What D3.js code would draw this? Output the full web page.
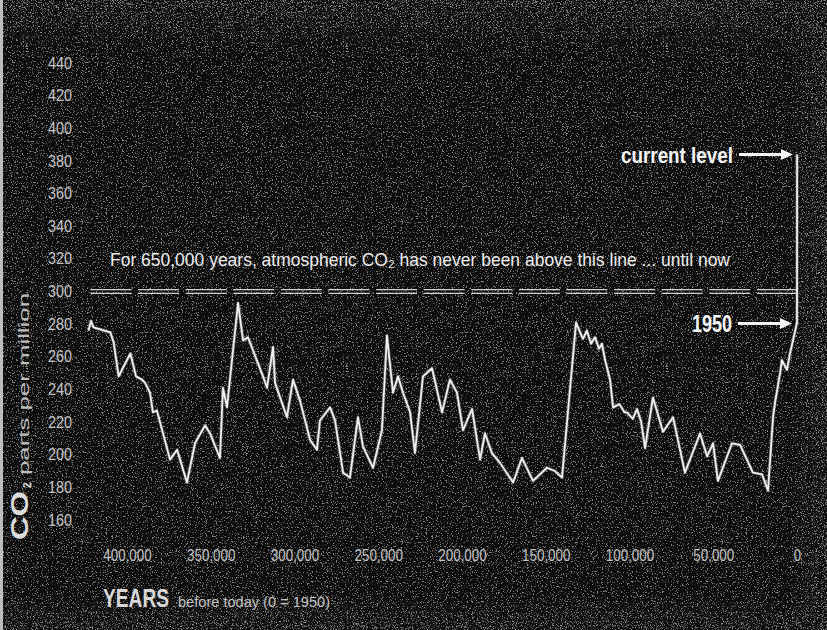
<!DOCTYPE html>
<html><head><meta charset="utf-8">
<script src="https://cdn.jsdelivr.net/npm/d3@7"></script>
<style>html,body{margin:0;padding:0;background:#0c0c0c;} svg{display:block}</style>
</head><body><svg id="c" width="827" height="630"></svg>
<script>
// ---- data (years before 1950, CO2 ppm) ----
const years = [423000,421500,420000,410000,408000,405000,398000,394600,391000,389200,386300,384500,382100,374300,370100,364200,359400,353400,350400,344500,342700,340300,333700,330700,327800,324800,318800,316400,312800,311600,304500,300900,296700,290700,286600,284800,278800,275800,271000,266900,262100,259100,253100,247800,244800,241200,238200,235200,231000,228100,223300,217900,211900,207200,203000,199400,194000,189200,186300,182100,177300,169500,164200,157600,149300,144500,140300,131900,129500,127800,125400,123000,120600,118200,116400,114600,111600,109800,106000,103000,101500,98000,95500,93000,90700,86000,80000,74000,66900,57900,53700,50100,47200,38800,34000,26300,20900,17300,14300,13100,10100,9000,6000,4200,2400,0,-55];
const co2   = [276,282,278,275,269,248,262,248,246,244,238,226,227,197,203,183,207,218,213,198,241,229,293,270,272,264,248,241,266,244,223,246,233,209,203,221,229,221,189,186,223,205,192,215,273,238,248,238,226,201,248,253,226,246,238,215,228,197,213,201,195,183,198,184,192,190,186,281,275,271,276,268,272,265,268,258,246,229,231,226,226,222,228,220,204,235,214,223,189,213,199,207,184,207,206,189,188,178,223,232,250,258,252,262,270,281,384];
const yTicks = [160,180,200,220,240,260,280,300,320,340,360,380,400,420,440];
const xTicks = [400000,350000,300000,250000,200000,150000,100000,50000,0];
const thresholdLevel = 300;
const annotation = "For 650,000 years, atmospheric CO\u2082 has never been above this line ... until now";
const labelCurrent = "current level";
const label1950 = "1950";
const yTitleMain = "CO";
const yTitleSub = "2";
const yTitleRest = "parts per million";
const xTitleMain = "YEARS";
const xTitleRest = "before today (0 = 1950)";

const svg = d3.select("#c");
const W = 827, H = 630;
const FONT = "'Liberation Sans Narrow','Liberation Sans',Arial,sans-serif";

const x = d3.scaleLinear().domain([0, 400000]).range([797, 127]);
const y = d3.scaleLinear().domain([160, 440]).range([520, 63]);

// ---- background with grain ----
const defs = svg.append("defs");
const f = defs.append("filter").attr("id","grain").attr("filterUnits","userSpaceOnUse")
  .attr("x",0).attr("y",0).attr("width",W).attr("height",H);
f.append("feTurbulence").attr("type","fractalNoise").attr("baseFrequency",0.8)
  .attr("numOctaves",2).attr("seed",7).attr("result","n");
f.append("feColorMatrix").attr("type","matrix")
  .attr("values","0 0 0 0 1  0 0 0 0 1  0 0 0 0 1  8 0 0 0 -4.6");
const f2 = defs.append("filter").attr("id","grain2").attr("filterUnits","userSpaceOnUse")
  .attr("x",0).attr("y",0).attr("width",W).attr("height",H);
f2.append("feTurbulence").attr("type","fractalNoise").attr("baseFrequency",0.9)
  .attr("numOctaves",2).attr("seed",21).attr("result","n");
f2.append("feColorMatrix").attr("type","matrix")
  .attr("values","0 0 0 0 1  0 0 0 0 1  0 0 0 0 1  7 0 0 0 -3.9");

// edge mask
const gTop = defs.append("linearGradient").attr("id","gt").attr("x1",0).attr("y1",0).attr("x2",0).attr("y2",1);
gTop.append("stop").attr("offset",0).attr("stop-color","#fff").attr("stop-opacity",1);
gTop.append("stop").attr("offset",1).attr("stop-color","#fff").attr("stop-opacity",0);
const gR = defs.append("linearGradient").attr("id","gr").attr("x1",1).attr("y1",0).attr("x2",0).attr("y2",0);
gR.append("stop").attr("offset",0).attr("stop-color","#fff").attr("stop-opacity",1);
gR.append("stop").attr("offset",1).attr("stop-color","#fff").attr("stop-opacity",0);
const gB = defs.append("linearGradient").attr("id","gb").attr("x1",0).attr("y1",1).attr("x2",0).attr("y2",0);
gB.append("stop").attr("offset",0).attr("stop-color","#fff").attr("stop-opacity",1);
gB.append("stop").attr("offset",1).attr("stop-color","#fff").attr("stop-opacity",0);
const m = defs.append("mask").attr("id","edge").attr("maskUnits","userSpaceOnUse")
  .attr("x",0).attr("y",0).attr("width",W).attr("height",H);
m.append("rect").attr("x",0).attr("y",0).attr("width",W).attr("height",50).attr("fill","url(#gt)");
m.append("rect").attr("x",790).attr("y",0).attr("width",37).attr("height",H).attr("fill","url(#gr)");
m.append("rect").attr("x",0).attr("y",595).attr("width",W).attr("height",35).attr("fill","url(#gb)");

svg.append("rect").attr("width",W).attr("height",H).attr("fill","#0c0c0c");
svg.append("rect").attr("width",W).attr("height",H).attr("filter","url(#grain)").attr("opacity",0.5);
svg.append("rect").attr("width",W).attr("height",H).attr("filter","url(#grain2)").attr("opacity",0.4).attr("mask","url(#edge)");
svg.append("rect").attr("x",0).attr("y",0).attr("width",3).attr("height",H).attr("fill","#bdbdbd");

// ---- y axis ----
const yAxis = svg.append("g").attr("transform","translate(72,0)")
  .call(d3.axisLeft(y).tickValues(yTicks).tickSize(0).tickPadding(0));
yAxis.select(".domain").remove();
yAxis.selectAll("text").attr("fill","#c4c4c4").attr("font-family",FONT).attr("font-size",16)
  .attr("textLength",24).attr("lengthAdjust","spacingAndGlyphs");

// ---- x axis ----
const fmt = d3.format(",");
const xAxis = svg.append("g").attr("transform","translate(0,545)")
  .call(d3.axisBottom(x).tickValues(xTicks).tickFormat(fmt).tickSize(0).tickPadding(0));
xAxis.select(".domain").remove();
xAxis.selectAll("text").attr("fill","#c4c4c4").attr("font-family",FONT).attr("font-size",16)
  .attr("y",0).attr("dy","1em")
  .attr("textLength", d => { const s = fmt(d); const dg = s.replace(/,/g,"").length; const cm = s.length - dg; return dg*7.3 + cm*4.5; })
  .attr("lengthAdjust","spacingAndGlyphs");

// ---- threshold dashed double line ----
const x0 = x(years[0]) + 2, x1 = x(0);
[-1.8, 1.8].forEach(o => {
  svg.append("line").attr("x1",x0).attr("x2",x1)
    .attr("y1",y(thresholdLevel)+o).attr("y2",y(thresholdLevel)+o)
    .attr("stroke","#d0d0d0").attr("stroke-width",1.3).attr("stroke-dasharray","41,6.6");
});

// ---- annotation ----
svg.append("text").attr("x",110).attr("y",266).text(annotation)
  .attr("fill","#ececec").attr("font-family",FONT).attr("font-size",19)
  .attr("textLength",620).attr("lengthAdjust","spacingAndGlyphs");

// ---- data line ----
const pts = years.map((yr,i)=>[yr, co2[i]]);
const line = d3.line().x(d=>x(d[0])).y(d=>y(d[1]));
svg.append("path").datum(pts).attr("d",line).attr("fill","none")
  .attr("stroke","#9a9a9a").attr("stroke-width",3.4).attr("stroke-linejoin","round").attr("opacity",0.45);
svg.append("path").datum(pts).attr("d",line).attr("fill","none")
  .attr("stroke","#f0f0f0").attr("stroke-width",1.8).attr("stroke-linejoin","round");

// ---- arrows ----
function arrow(xs, xe, yy){
  svg.append("line").attr("x1",xs).attr("x2",xe-10).attr("y1",yy).attr("y2",yy)
    .attr("stroke","#f4f4f4").attr("stroke-width",3);
  svg.append("path").attr("d",`M${xe},${yy} L${xe-12},${yy-5.5} L${xe-12},${yy+5.5} Z`).attr("fill","#f4f4f4");
}
const yCur = y(co2[co2.length-1]), y50 = y(co2[co2.length-2]);
svg.append("text").attr("x",621).attr("y",yCur+9).text(labelCurrent)
  .attr("fill","#f4f4f4").attr("font-family",FONT).attr("font-size",22).attr("font-weight","bold")
  .attr("textLength",112).attr("lengthAdjust","spacingAndGlyphs");
arrow(739, 793, yCur);
svg.append("text").attr("x",692).attr("y",y50+9).text(label1950)
  .attr("fill","#f4f4f4").attr("font-family",FONT).attr("font-size",23).attr("font-weight","bold")
  .attr("textLength",40).attr("lengthAdjust","spacingAndGlyphs");
arrow(738, 792, y50+1);

// ---- y title ----
svg.append("text").attr("transform","translate(28,540) rotate(-90)").text(yTitleMain)
  .attr("fill","#dcdcdc").attr("font-family",FONT).attr("font-size",24).attr("font-weight","bold")
  .attr("textLength",49).attr("lengthAdjust","spacingAndGlyphs");
svg.append("text").attr("transform","translate(31,488) rotate(-90)").text(yTitleSub)
  .attr("fill","#dcdcdc").attr("font-family",FONT).attr("font-size",10).attr("font-weight","bold");
svg.append("text").attr("transform","translate(29,475) rotate(-90)").text(yTitleRest)
  .attr("fill","#bdbdbd").attr("font-family",FONT).attr("font-size",15)
  .attr("textLength",182).attr("lengthAdjust","spacingAndGlyphs");

// ---- x title ----
svg.append("text").attr("x",103).attr("y",607).text(xTitleMain)
  .attr("fill","#d8d8d8").attr("font-family",FONT).attr("font-size",26).attr("font-weight","bold")
  .attr("textLength",66).attr("lengthAdjust","spacingAndGlyphs");
svg.append("text").attr("x",178).attr("y",607).text(xTitleRest)
  .attr("fill","#c4c4c4").attr("font-family",FONT).attr("font-size",15)
  .attr("textLength",152).attr("lengthAdjust","spacingAndGlyphs");
</script></body></html>
